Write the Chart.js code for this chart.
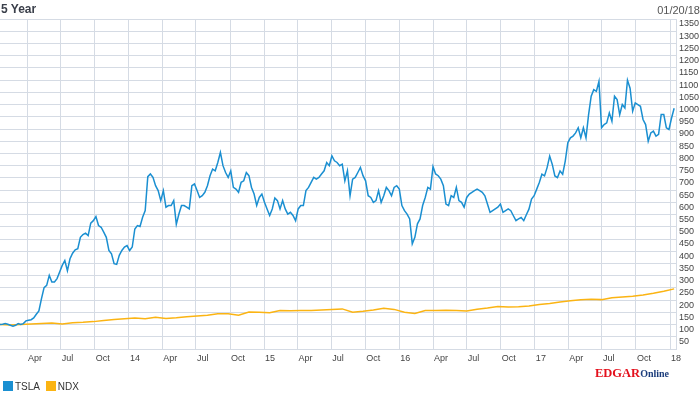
<!DOCTYPE html>
<html>
<head>
<meta charset="utf-8">
<script src="https://cdn.jsdelivr.net/npm/chart.js@4/dist/chart.umd.min.js"></script>
<style>
  body { margin: 0; background: #fff; font-family: Arial, "Liberation Sans", sans-serif; }
  #wrap { position: relative; width: 700px; height: 395px; }
  #title { position: absolute; left: 1px; top: 2px; font-size: 12px; font-weight: bold; color: #3a3f4a; }
  #date { position: absolute; right: 0; top: 4px; font-size: 11px; color: #555; }
  #legend { position: absolute; left: 3px; top: 381px; font-size: 10px; color: #333; line-height: 11px; }
  #legend span.box { display: inline-block; width: 10px; height: 10px; vertical-align: top; margin-right: 2px; }
  #legend span.item { margin-right: 3px; }
  #logo { position: absolute; left: 595px; top: 363px; font-family: "Liberation Serif", "Times New Roman", serif; font-weight: bold; white-space: nowrap; }
  #logo .e { color: #e4101c; font-size: 12.5px; }
  #logo .o { color: #1c3d7c; font-size: 10px; }
</style>
</head>
<body>
<div id="wrap">
  <canvas id="chart" width="700" height="395"></canvas>
  <div id="title">5 Year</div>
  <div id="date">01/20/18</div>
  <div id="legend">
    <span class="box" style="background:#1a8fd1"></span><span class="item">TSLA</span>
    <span class="box" style="background:#fbb413"></span><span class="item">NDX</span>
  </div>
  <div id="logo"><span class="e">EDGAR</span><span class="o">Online</span></div>
</div>
<script>
// days counted from Jan 1 2013, first sample is Fri Jan 18 2013
const startDay = 17;

// quarter grid lines and their labels
const quarterDays = [90, 181, 273, 365, 455, 546, 638, 730, 820, 911, 1003, 1095,
    1186, 1277, 1369, 1461, 1551, 1642, 1734, 1826];
const quarterLabels = ['Apr', 'Jul', 'Oct', '14', 'Apr', 'Jul', 'Oct', '15', 'Apr', 'Jul', 'Oct', '16',
    'Apr', 'Jul', 'Oct', '17', 'Apr', 'Jul', 'Oct', '18'];

// TSLA, weekly, rebased to 100
const tslaValues = [
    100, 101, 104, 101, 97, 93, 97, 104, 100, 104,
    115, 118, 120, 127, 142, 156, 206, 251, 260, 301,
    274, 274, 288, 315, 342, 362, 320, 369, 392, 406,
    410, 457, 468, 474, 464, 515, 525, 542, 505, 498,
    478, 457, 403, 389, 349, 346, 383, 403, 417, 423,
    403, 417, 491, 505, 501, 539, 566, 705, 716, 702,
    668, 648, 607, 648, 580, 587, 587, 607, 510, 552,
    587, 587, 580, 573, 668, 675, 648, 620, 627, 641,
    668, 709, 736, 729, 763, 804, 750, 722, 702, 729,
    661, 654, 641, 682, 688, 722, 709, 661, 634, 587,
    620, 634, 600, 573, 546, 573, 618, 607, 573, 607,
    573, 552, 559, 546, 525, 573, 587, 587, 648, 661,
    682, 702, 695, 702, 716, 729, 763, 750, 790, 770,
    763, 750, 756, 688, 729, 627, 695, 702, 722, 743,
    709, 688, 627, 620, 600, 607, 648, 600, 627, 661,
    648, 627, 661, 668, 654, 587, 566, 552, 532, 430,
    457, 512, 532, 587, 620, 661, 654, 746, 716, 709,
    695, 668, 593, 587, 627, 620, 661, 607, 600, 580,
    620, 634, 641, 648, 654, 648, 641, 627, 593, 559,
    566, 573, 580, 593, 559, 566, 573, 566, 545, 525,
    532, 538, 525, 549, 572, 613, 627, 654, 681, 715,
    708, 742, 789, 755, 708, 701, 728, 715, 769, 844,
    864, 871, 884, 905, 864, 905, 864, 959, 1034, 1061,
    1054, 1095, 905, 918, 925, 966, 932, 1034, 1020, 959,
    1000, 986, 1100, 1067, 973, 1007, 1000, 993, 939, 918,
    850, 884, 891, 871, 878, 959, 959, 905, 898, 945,
    985
];

// NDX, every 4 weeks, rebased to 100
const ndxValues = [
    100, 98, 100, 102, 104, 106, 102, 107, 109, 112,
    117, 121, 124, 127, 124, 130, 125, 128, 132, 135,
    138, 144, 144, 138, 151, 150, 148, 157, 156, 157,
    158, 160, 162, 164, 150, 154, 160, 167, 162, 150,
    145, 157, 158, 159, 157, 155, 163, 168, 174, 172,
    173, 176, 182, 186, 192, 197, 201, 204, 202, 210,
    213, 216, 221, 228, 236, 246
];

const gridColor = '#d5dbe4';
const tickFont = { family: 'Arial, "Liberation Sans", sans-serif', size: 9 };

const ctx = document.getElementById('chart').getContext('2d');

new Chart(ctx, {
    type: 'line',
    data: {
        datasets: [
            {
                label: 'TSLA',
                data: tslaValues.map((v, i) => ({ x: startDay + 7 * i, y: v })),
                borderColor: '#1a8fd1',
                borderWidth: 1.5,
                pointRadius: 0,
                tension: 0
            },
            {
                label: 'NDX',
                data: ndxValues.map((v, i) => ({ x: startDay + 28 * i, y: v })),
                borderColor: '#fbb413',
                borderWidth: 1.5,
                pointRadius: 0,
                tension: 0
            }
        ]
    },
    options: {
        responsive: false,
        animation: false,
        layout: { padding: { top: 19, left: 0, right: 0, bottom: 26 } },
        plugins: {
            legend: { display: false },
            tooltip: { enabled: false }
        },
        scales: {
            x: {
                type: 'linear',
                min: startDay,
                max: 1842,
                afterBuildTicks: (scale) => {
                    scale.ticks = quarterDays.map(d => ({ value: d }));
                },
                afterFit: (scale) => { scale.height = 20; },
                ticks: {
                    autoSkip: false,
                    maxRotation: 0,
                    align: 'start',
                    labelOffset: 1,
                    padding: 4,
                    color: '#444',
                    font: tickFont,
                    callback: (value) => quarterLabels[quarterDays.indexOf(value)]
                },
                grid: { color: gridColor, drawTicks: false },
                border: { color: gridColor }
            },
            y: {
                position: 'right',
                min: 0,
                max: 1350,
                afterFit: (scale) => { scale.width = 24; },
                ticks: {
                    stepSize: 50,
                    autoSkip: false,
                    padding: 3,
                    labelOffset: 5,
                    color: '#444',
                    font: tickFont,
                    callback: (value) => value === 0 ? '' : value
                },
                grid: { color: gridColor, drawTicks: false },
                border: { color: gridColor }
            }
        }
    }
});
</script>
</body>
</html>
